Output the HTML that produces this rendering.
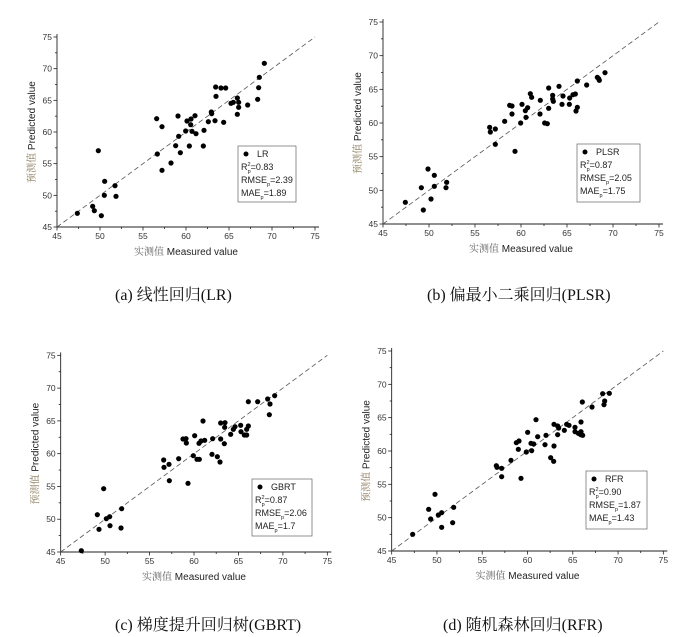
<!DOCTYPE html>
<html><head><meta charset="utf-8"><style>
html,body{margin:0;padding:0;background:#fff;}
svg{display:block;}
</style></head><body>
<svg id="s" width="689" height="637" xmlns="http://www.w3.org/2000/svg" font-family="Liberation Sans, sans-serif"></svg>
<script>
const P=[
{o:[0,0],ax:[171,945,681,111],lg:[238,146,296,202],name:"LR",st:["0.83","2.39","1.89"],
pts:[[232,640],[278,619],[283,632],[295,452],[304,647],[313,586],[314,544],[345,557],[348,589],[470,356],[472,462],[486,380],[486,511],[513,489],[527,437],[534,348],[536,409],[541,458],[557,393],[561,363],[568,438],[573,357],[572,374],[576,394],[585,347],[588,401],[610,438],[612,391],[625,365],[634,336],[635,341],[647,261],[648,289],[645,362],[663,264],[677,264],[671,367],[693,310],[700,307],[712,294],[712,343],[716,307],[716,322],[743,315],[773,298],[776,263],[778,232],[793,190]]},
{o:[340,0],ax:[129,957,672,66],lg:[577,144,640,202],name:"PLSR",st:["0.87","2.05","1.75"],
pts:[[196,607],[244,563],[250,630],[264,507],[273,597],[283,559],[283,526],[318,563],[320,547],[449,382],[451,396],[466,433],[466,387],[494,364],[509,316],[516,318],[516,342],[525,454],[542,369],[546,313],[556,332],[558,352],[563,323],[571,281],[575,292],[600,342],[601,301],[614,369],[622,371],[626,264],[626,325],[638,286],[638,297],[640,304],[657,259],[666,313],[669,288],[688,313],[689,294],[699,284],[706,282],[708,333],[712,322],[712,243],[740,255],[772,232],[776,236],[778,241],[795,218]]},
{o:[0,330],ax:[182,982,666,76],lg:[252,479,312,536],name:"GBRT",st:["0.87","2.06","1.7"],
pts:[[244,662],[292,554],[297,598],[311,476],[319,566],[329,560],[330,587],[363,594],[365,536],[491,390],[492,412],[507,403],[508,452],[536,386],[549,327],[558,326],[559,339],[564,460],[580,377],[584,317],[591,388],[598,388],[597,340],[603,333],[609,273],[614,331],[636,373],[638,326],[652,380],[660,396],[662,327],[662,279],[673,341],[675,278],[674,292],[692,313],[700,298],[705,290],[722,286],[723,305],[733,315],[740,315],[740,298],[745,288],[745,215],[773,215],[803,207],[808,254],[810,222],[824,197]]},
{o:[345,330],ax:[140,955,663,63],lg:[586,471,647,529],name:"RFR",st:["0.90","1.87","1.43"],
pts:[[203,613],[251,538],[257,567],[270,493],[280,555],[290,548],[290,592],[323,578],[326,532],[454,407],[456,412],[470,440],[470,415],[498,391],[514,338],[522,333],[520,358],[528,445],[544,366],[548,307],[558,340],[560,362],[566,342],[573,269],[578,320],[600,344],[603,316],[617,383],[626,394],[627,348],[627,283],[638,314],[638,288],[641,294],[658,301],[665,283],[672,286],[690,292],[690,305],[700,310],[707,314],[708,276],[708,305],[713,316],[712,216],[741,231],[773,191],[777,224],[779,213],[793,190]]}
];
let h='';
for(const p of P){
 const [ox,oy]=p.o;
 const x0=ox+p.ax[0]/3,x1=ox+p.ax[1]/3,y0=oy+p.ax[2]/3,y1=oy+p.ax[3]/3;
 h+=`<line x1="${x0}" y1="${y0}" x2="${x1+4}" y2="${y0}" stroke="#222" stroke-width="0.9"/>`;
 h+=`<line x1="${x0}" y1="${y0}" x2="${x0}" y2="${y1-3}" stroke="#222" stroke-width="0.9"/>`;
 for(let i=0;i<=12;i++){
  const L=i%2==0?3.5:2;
  const tx=x0+(x1-x0)*i/12, ty=y0+(y1-y0)*i/12;
  h+=`<line x1="${tx}" y1="${y0}" x2="${tx}" y2="${y0+L}" stroke="#222" stroke-width="0.8"/>`;
  h+=`<line x1="${x0}" y1="${ty}" x2="${x0-L}" y2="${ty}" stroke="#222" stroke-width="0.8"/>`;
  if(i%2==0){
   const v=45+i*2.5;
   h+=`<text x="${tx}" y="${y0+12}" font-size="8.5" text-anchor="middle" fill="#333">${v}</text>`;
   h+=`<text x="${x0-5}" y="${ty+3}" font-size="8.5" text-anchor="end" fill="#333">${v}</text>`;
  }
 }
 h+=`<line x1="${x0}" y1="${y0}" x2="${x1}" y2="${y1}" stroke="#555" stroke-width="0.8" stroke-dasharray="5,3"/>`;
 for(const q of p.pts) h+=`<circle cx="${ox+q[0]/3}" cy="${oy+q[1]/3}" r="2.6" fill="#000"/>`;
 const cx=(x0+x1)/2;
 h+=`<text x="${cx}" y="${y0+28}" font-size="10" text-anchor="middle" fill="#222"><tspan font-family="Noto Serif CJK SC, serif" fill="#666">实测值</tspan> Measured value</text>`;
 const yx=x0-22, yc=(y0+y1)/2;
 h+=`<text transform="translate(${yx},${yc}) rotate(-90)" font-size="10" text-anchor="middle" fill="#222"><tspan font-family="Noto Serif CJK SC, serif" fill="#8a7a5a">预测值</tspan> Predicted value</text>`;
 const [lx,ly,rx,ry]=p.lg;
 h+=`<rect x="${lx}" y="${ly}" width="${rx-lx}" height="${ry-ly}" fill="#fff" stroke="#666" stroke-width="0.7"/>`;
 h+=`<circle cx="${lx+8}" cy="${ly+8}" r="2.5" fill="#000"/>`;
 h+=`<text x="${lx+19}" y="${ly+11}" font-size="9" fill="#222">${p.name}</text>`;
 h+=`<text x="${lx+3}" y="${ly+24}" font-size="9" fill="#222">R<tspan font-size="5.5" dy="-4">2</tspan><tspan font-size="5.5" dx="-3" dy="7">p</tspan><tspan dy="-3">=${p.st[0]}</tspan></text>`;
 h+=`<text x="${lx+3}" y="${ly+37}" font-size="9" fill="#222">RMSE<tspan font-size="5.5" dy="3">p</tspan><tspan dy="-3">=${p.st[1]}</tspan></text>`;
 h+=`<text x="${lx+3}" y="${ly+50}" font-size="9" fill="#222">MAE<tspan font-size="5.5" dy="3">p</tspan><tspan dy="-3">=${p.st[2]}</tspan></text>`;
}
const caps=[[115,300,"(a) 线性回归(LR)"],[427,300,"(b) 偏最小二乘回归(PLSR)"],[115,630,"(c) 梯度提升回归树(GBRT)"],[443,630,"(d) 随机森林回归(RFR)"]];
for(const c of caps) h+=`<text x="${c[0]}" y="${c[1]}" font-size="16" font-family="Liberation Serif, Noto Serif CJK SC, serif" fill="#111">${c[2]}</text>`;
document.getElementById('s').innerHTML=h;
</script>
</body></html>
